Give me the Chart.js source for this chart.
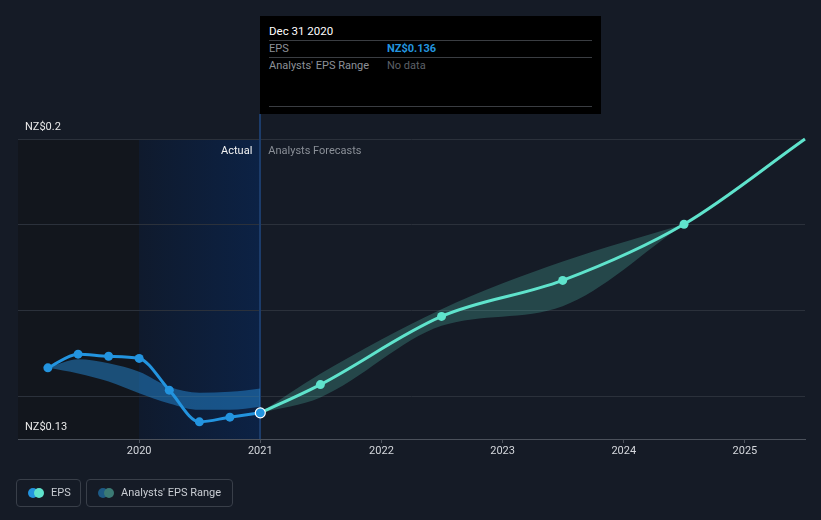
<!DOCTYPE html>
<html><head><meta charset="utf-8">
<script src="https://cdn.jsdelivr.net/npm/chart.js@4"></script>
<style>
html,body{margin:0;padding:0;background:#151b26;}
#wrap{position:relative;width:821px;height:520px;font-family:Roboto,"Noto Sans",sans-serif;overflow:hidden;}
#c{position:absolute;left:0;top:0;}
#tip{position:absolute;left:260px;top:16px;width:341px;height:98px;background:#000;font-size:11px;}
#tip .t{position:absolute;left:9px;top:7px;color:#fff;line-height:16px;font-size:11.5px;}
#tip .sep{position:absolute;left:9px;width:323px;height:1px;background:#3a3d42;}
#tip .k{position:absolute;left:9px;color:#8d9198;line-height:16px;}
#tip .v{position:absolute;left:127px;line-height:16px;}
.lg{position:absolute;top:479px;height:28px;border:1px solid #393f49;border-radius:4px;box-sizing:border-box;color:#c9cdd3;font-size:11px;line-height:26px;}
.lg .d{position:absolute;top:8px;width:10px;height:10px;border-radius:50%;}
.lg span.tx{position:absolute;top:0;white-space:nowrap;}
</style></head>
<body>
<div id="wrap">
<canvas id="c" width="821" height="520"></canvas>
<div id="tip">
  <div class="t" id="tipTitle"></div>
  <div class="sep" style="top:24px"></div>
  <div class="k" style="top:25px">EPS</div>
  <div class="v" id="tipEps" style="top:25px;color:#2394df;font-weight:bold"></div>
  <div class="sep" style="top:41px"></div>
  <div class="k" style="top:42px">Analysts' EPS Range</div>
  <div class="v" style="top:42px;color:#5d6168">No data</div>
  <div class="sep" style="top:90px"></div>
</div>
<div class="lg" style="left:16px;width:65px;">
  <div class="d" style="left:11px;background:#2394df"></div>
  <div class="d" style="left:17px;background:#5fe3cc"></div>
  <span class="tx" style="left:34px">EPS</span>
</div>
<div class="lg" style="left:86px;width:147px;">
  <div class="d" style="left:11px;background:#1d5a85"></div>
  <div class="d" style="left:17px;background:#3b7a74"></div>
  <span class="tx" style="left:34px">Analysts' EPS Range</span>
</div>
</div>
<script>
// ---- data ----
const actualDates = ["2019-03-31","2019-06-30","2019-09-30","2019-12-31","2020-03-31","2020-06-30","2020-09-30","2020-12-31"];
const actualEps = [0.1466,0.1498,0.1493,0.1488,0.1414,0.1340,0.1351,0.1361];
const actualRangeLow = [0.1466,0.1453,0.1434,0.1407,0.1383,0.1368,0.1368,0.1375];
const actualRangeHigh = [0.1466,0.1486,0.1477,0.1457,0.1422,0.1408,0.1410,0.1418];
const forecastDates = ["2020-12-31","2021-06-30","2022-06-30","2023-06-30","2024-06-30","2025-06-30"];
const forecastEps = [0.1361,0.1427,0.1586,0.1670,0.1801,0.2000];
const forecastRangeDates = ["2020-12-31","2021-06-30","2022-06-30","2023-06-30","2024-06-30"];
const forecastRangeLow = [0.1361,0.1397,0.1564,0.1610,0.1801];
const forecastRangeHigh = [0.1361,0.1452,0.1603,0.1714,0.1801];
const xTickYears = [2020,2021,2022,2023,2024,2025];
const yGridValues = [0.14,0.16,0.18,0.2];
const yLabelValues = [0.2,0.13];
const yLabelTexts = ["NZ$0.2","NZ$0.13"];
const xStartDate = "2018-12-31";
const xEndDate = "2025-06-30";
const pastStartDate = "2018-12-31";
const actualStartDate = "2019-12-31";
const todayDate = "2020-12-31";
const tooltipTitle = "Dec 31 2020";
const tooltipEps = "NZ$0.136";

// ---- helpers ----
function toYear(s){
  const [y,m,d] = s.split("-").map(Number);
  const start = Date.UTC(y,0,1), end = Date.UTC(y+1,0,1);
  const day = (Date.UTC(y,m-1,d) - start)/86400000 + 1;
  return y + day/((end-start)/86400000);
}
const pts = (ds, vs) => ds.map((d,i)=>({x:toYear(d), y:vs[i]}));

document.getElementById('tipTitle').textContent = tooltipTitle;
document.getElementById('tipEps').textContent = tooltipEps;

const BLUE = '#2394df', TEAL = '#5fe3cc';
const FONT = '11px Roboto, "Noto Sans", sans-serif';

const bgPlugin = {
  id:'bg',
  beforeDraw(chart){
    const {ctx, chartArea:a, scales:{x}} = chart;
    ctx.save();
    ctx.fillStyle = '#151b26';
    ctx.fillRect(0,0,chart.width,chart.height);
    const x0 = x.getPixelForValue(toYear(pastStartDate));
    const x1 = x.getPixelForValue(toYear(actualStartDate));
    const x2 = x.getPixelForValue(toYear(todayDate));
    ctx.fillStyle = '#12161d';
    ctx.fillRect(x0, a.top, x1-x0, a.bottom-a.top);
    const g = ctx.createLinearGradient(x1,0,x2,0);
    g.addColorStop(0,'#0f1a2d');
    g.addColorStop(1,'#0c2245');
    ctx.fillStyle = g;
    ctx.fillRect(x1, a.top, x2-x1, a.bottom-a.top);
    ctx.restore();
  },
  beforeDatasetsDraw(chart){
    const {ctx, chartArea:a, scales:{x}} = chart;
    const xt = Math.round(x.getPixelForValue(toYear(todayDate)));
    ctx.save();
    ctx.strokeStyle = '#1c3c6a';
    ctx.lineWidth = 2;
    ctx.beginPath(); ctx.moveTo(xt, 114); ctx.lineTo(xt, a.bottom); ctx.stroke();
    ctx.restore();
  },
  afterDraw(chart){
    const {ctx, chartArea:a, scales:{x,y}} = chart;
    ctx.save();
    ctx.font = FONT;
    ctx.textBaseline = 'middle';
    ctx.fillStyle = '#e8e8e8';
    ctx.textAlign = 'left';
    yLabelValues.forEach((v,i)=>{
      ctx.fillText(yLabelTexts[i], 25, y.getPixelForValue(v) - 12);
    });
    const xt = x.getPixelForValue(toYear(todayDate));
    ctx.textAlign = 'right';
    ctx.fillStyle = '#f2f2f2';
    ctx.fillText('Actual', xt - 8, a.top + 12);
    ctx.textAlign = 'left';
    ctx.fillStyle = '#8a8f97';
    ctx.fillText('Analysts Forecasts', xt + 8, a.top + 12);
    ctx.restore();
  }
};

new Chart(document.getElementById('c'), {
  type:'line',
  data:{datasets:[
    {data:pts(actualDates,actualEps), borderColor:BLUE, backgroundColor:BLUE, borderWidth:3,
     cubicInterpolationMode:'monotone', fill:false, clip:false,
     pointRadius:actualDates.map((d,i)=> i===actualDates.length-1?5:4.5),
     pointBorderColor:actualDates.map((d,i)=> i===actualDates.length-1?'#ffffff':BLUE),
     pointBorderWidth:actualDates.map((d,i)=> i===actualDates.length-1?1.2:0),
     pointBackgroundColor:BLUE},
    {data:pts(forecastDates,forecastEps), borderColor:TEAL, backgroundColor:TEAL, borderWidth:3,
     cubicInterpolationMode:'monotone', fill:false, clip:false,
     pointRadius:forecastDates.map((d,i)=> (i===0||i===forecastDates.length-1)?0:4.5),
     pointBorderWidth:0, pointBackgroundColor:TEAL},
    {data:pts(actualDates,actualRangeHigh), borderWidth:0, pointRadius:0, cubicInterpolationMode:'monotone', fill:false},
    {data:pts(actualDates,actualRangeLow), borderWidth:0, pointRadius:0, cubicInterpolationMode:'monotone',
     fill:'-1', backgroundColor:'rgba(36,135,212,0.5)'},
    {data:pts(forecastRangeDates,forecastRangeHigh), borderWidth:0, pointRadius:0, cubicInterpolationMode:'monotone', fill:false},
    {data:pts(forecastRangeDates,forecastRangeLow), borderWidth:0, pointRadius:0, cubicInterpolationMode:'monotone',
     fill:'-1', backgroundColor:'rgba(94,229,204,0.22)'}
  ]},
  options:{
    responsive:false, animation:false, events:[],
    layout:{padding:{left:18,right:16,top:139,bottom:60}},
    plugins:{legend:{display:false}, tooltip:{enabled:false}},
    scales:{
      x:{type:'linear', min:toYear(xStartDate), max:toYear(xEndDate),
         afterBuildTicks:s=>{ s.ticks = xTickYears.map(v=>({value:v})); },
         afterFit:s=>{ s.height = 21; },
         ticks:{callback:v=>String(v), color:'#d4d7dc', font:{family:'Roboto', size:11}, padding:2, maxRotation:0, autoSkip:false},
         grid:{drawOnChartArea:false, tickLength:4, color:'#4b515b'},
         border:{color:'#4b515b', width:1}},
      y:{min:0.13, max:0.2,
         afterBuildTicks:s=>{ s.ticks = yGridValues.map(v=>({value:v})); },
         afterFit:s=>{ s.width = 0; },
         ticks:{display:false},
         grid:{color:'#2b313b', drawTicks:false, lineWidth:1},
         border:{display:false}}
    }
  },
  plugins:[bgPlugin]
});
</script>
</body></html>
